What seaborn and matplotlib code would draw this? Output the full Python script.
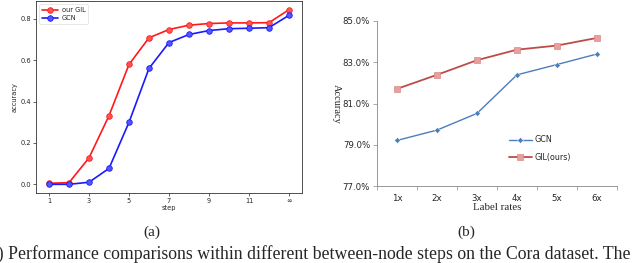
import numpy as np
import pandas as pd
import matplotlib
matplotlib.use("Agg")
import matplotlib.pyplot as plt
import seaborn as sns

# ---- data (a) ----
steps = list(range(1, 14))
step_tick_pos = [1, 3, 5, 7, 9, 11, 13]
step_tick_labels = ["1", "3", "5", "7", "9", "11", "∞"]
gil_acc = [0.005, 0.008, 0.128, 0.332, 0.580, 0.709, 0.749, 0.770, 0.778, 0.781, 0.781, 0.782, 0.845]
gcn_acc = [0.000, 0.000, 0.010, 0.077, 0.300, 0.561, 0.686, 0.725, 0.744, 0.753, 0.755, 0.758, 0.818]

# ---- data (b) ----
label_rates = ["1x", "2x", "3x", "4x", "5x", "6x"]
gcn_rate = [79.21, 79.71, 80.52, 82.39, 82.89, 83.40]
gil_rate = [81.71, 82.39, 83.10, 83.61, 83.81, 84.18]
yticks_b = [77.0, 79.0, 81.0, 83.0, 85.0]

sns.set_theme(style="ticks")
plt.rcParams['font.family'] = ['DejaVu Sans']

fig = plt.figure(figsize=(6.4, 2.63), dpi=100)

# ---------- panel (a) ----------
ax1 = fig.add_axes([36/640, 1-193/263, (302-36)/640, (193-1)/263])
sns.lineplot(x=steps, y=gil_acc, ax=ax1, color="#ff1a1a", marker="o", markersize=4,
             markerfacecolor="#ff5555", markeredgecolor="#ff1a1a",
             markeredgewidth=0.6, linewidth=1.2, label="our GIL")
sns.lineplot(x=steps, y=gcn_acc, ax=ax1, color="#1a1aff", marker="o", markersize=4,
             markerfacecolor="#5555ff", markeredgecolor="#1a1aff",
             markeredgewidth=0.6, linewidth=1.2, label="GCN")
ax1.set_xticks(step_tick_pos)
ax1.set_xticklabels(step_tick_labels)
ax1.set_yticks([0.0, 0.2, 0.4, 0.6, 0.8])
ax1.set_yticklabels(["0.0", "0.2", "0.4", "0.6", "0.8"])
ax1.set_xlim(0.35, 13.65)
ax1.set_ylim(-0.042, 0.887)
ax1.tick_params(labelsize=4.8, length=2, width=0.5, pad=1.5)
ax1.set_xlabel("step", fontsize=4.8, labelpad=1)
ax1.set_ylabel("accuracy", fontsize=4.8, labelpad=2)
for s in ax1.spines.values():
    s.set_linewidth(0.6)
    s.set_color("#333333")
leg = ax1.legend(loc="upper left", fontsize=4.8, frameon=True, handlelength=2.4,
                 borderpad=0.4, labelspacing=0.3, handletextpad=0.6)
leg.get_frame().set_linewidth(0.4)

# ---------- panel (b) ----------
ax2 = fig.add_axes([377/640, 1-186/263, (617-377)/640, (186-21)/263])
xpos = np.arange(len(label_rates))
sns.lineplot(x=xpos, y=gcn_rate, ax=ax2, color="#4a7ebb", marker="D", markersize=3,
             markeredgewidth=0.3, linewidth=1.0, label="GCN")
sns.lineplot(x=xpos, y=gil_rate, ax=ax2, color="#be4b48", marker="s", markersize=4,
             markerfacecolor="#e8a09e", markeredgecolor="#d88a88", markeredgewidth=0.5,
             linewidth=1.3, label="GIL(ours)")
ax2.set_xlim(-0.5, 5.5)
ax2.set_ylim(77.0, 85.0)
ax2.set_yticks(yticks_b)
ax2.set_yticklabels([f"{v:.1f}%" for v in yticks_b])
ax2.set_xticks(xpos)
ax2.set_xticklabels(label_rates)
ax2.set_xticks(np.arange(-0.5, 6.0, 1.0), minor=True)
ax2.tick_params(axis="x", which="major", length=0, labelsize=6.2, pad=6)
ax2.tick_params(axis="x", which="minor", length=3, width=0.5, color="#888888")
ax2.tick_params(axis="y", labelsize=6.2, length=3, width=0.5, color="#888888", pad=2)
sns.despine(ax=ax2)
for s in ["left", "bottom"]:
    ax2.spines[s].set_linewidth(0.6)
    ax2.spines[s].set_color("#888888")
ax2.set_xlabel("Label rates", fontsize=7.8, family="Liberation Serif", labelpad=0)
ax2.set_ylabel("Accuracy", fontsize=7.5, family="Liberation Serif", rotation=270, labelpad=8)
leg2 = ax2.legend(loc="lower left", bbox_to_anchor=(0.52, 0.1), fontsize=5.8, frameon=False,
                  handlelength=2.8, labelspacing=1.1, handletextpad=0.3)

# ---------- captions ----------
fig.text(152/640, 1-232/263, "(a)", ha="center", va="center", fontsize=11, family="Liberation Serif")
fig.text(466/640, 1-232/263, "(b)", ha="center", va="center", fontsize=11, family="Liberation Serif")
fig.text(-16/640, 1-254/263, "(a) Performance comparisons within different between-node steps on the Cora dataset. The",
         ha="left", va="center", fontsize=12.8, family="Liberation Serif")

fig.savefig("out.png", dpi=100)
